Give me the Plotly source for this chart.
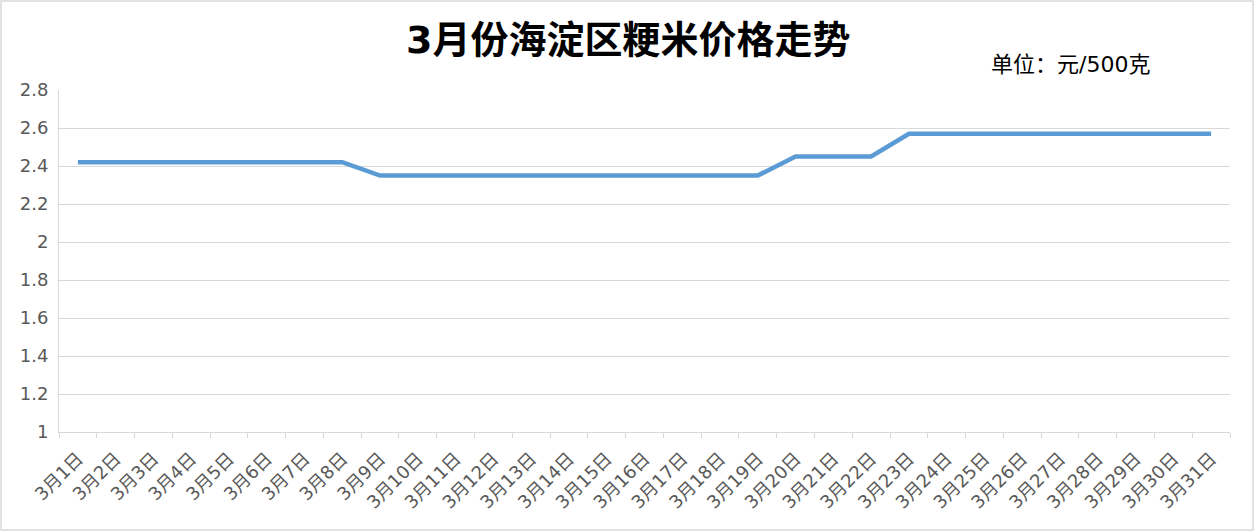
import plotly.graph_objects as go

dates = [f"3月{d}日" for d in range(1, 32)]
prices = [2.42]*8 + [2.35]*11 + [2.45]*3 + [2.57]*9
y_ticks = [1, 1.2, 1.4, 1.6, 1.8, 2, 2.2, 2.4, 2.6, 2.8]
y_tick_text = ["1", "1.2", "1.4", "1.6", "1.8", "2", "2.2", "2.4", "2.6", "2.8"]
title = "3月份海淀区粳米价格走势"
unit = "单位：元/500克"

font = "DejaVu Sans, Noto Sans CJK SC, sans-serif"
L, R, T, B = 59, 25, 90, 100
W, H = 1255, 532
pw, ph = W - L - R, H - T - B

def px(x):
    return (x - L) / pw

def py(y):
    return (H - B - y) / ph

fig = go.Figure()
fig.add_trace(go.Scatter(x=dates, y=prices, mode="lines",
                         line=dict(color="#5B9BD5", width=4.5), hoverinfo="x+y"))

fig.update_layout(
    width=W, height=H,
    margin=dict(l=L, r=R, t=T, b=B, autoexpand=False),
    paper_bgcolor="white", plot_bgcolor="white",
    showlegend=False,
    font=dict(family=font, color="#595959"),
    annotations=[
        dict(text="<b>" + title + "</b>", xref="paper", yref="paper", x=px(628), y=py(40),
             xanchor="center", yanchor="middle", showarrow=False,
             font=dict(size=38, color="#000000", family=font)),
        dict(text=unit, xref="paper", yref="paper", x=px(1070), y=py(64),
             xanchor="center", yanchor="middle", showarrow=False,
             font=dict(size=22, color="#000000", family=font)),
    ],
    xaxis=dict(type="category", range=[-0.5, 30.5], tickangle=-45, tickson="boundaries",
               ticks="outside", ticklen=5, tickcolor="#D9D9D9", showline=True, linecolor="#D9D9D9",
               linewidth=1, showgrid=False, automargin=False, ticklabelstandoff=8,
               tickfont=dict(size=18, color="#595959")),
    yaxis=dict(range=[1, 2.8], tickvals=y_ticks, ticktext=y_tick_text, showgrid=True,
               gridcolor="#D9D9D9", gridwidth=1, showline=True, linecolor="#D9D9D9",
               zeroline=False, ticks="", automargin=False, ticklabelstandoff=6,
               tickfont=dict(size=18, color="#595959")),
    shapes=[dict(type="rect", xref="paper", yref="paper", x0=px(1), x1=px(1253), y0=py(530), y1=py(1),
                 line=dict(color="#D9D9D9", width=1.5), fillcolor="rgba(0,0,0,0)", layer="below")],
)

fig.write_html("out.html", config={"displayModeBar": False},
               post_script="document.body.style.margin='0';document.body.style.overflow='hidden';")
